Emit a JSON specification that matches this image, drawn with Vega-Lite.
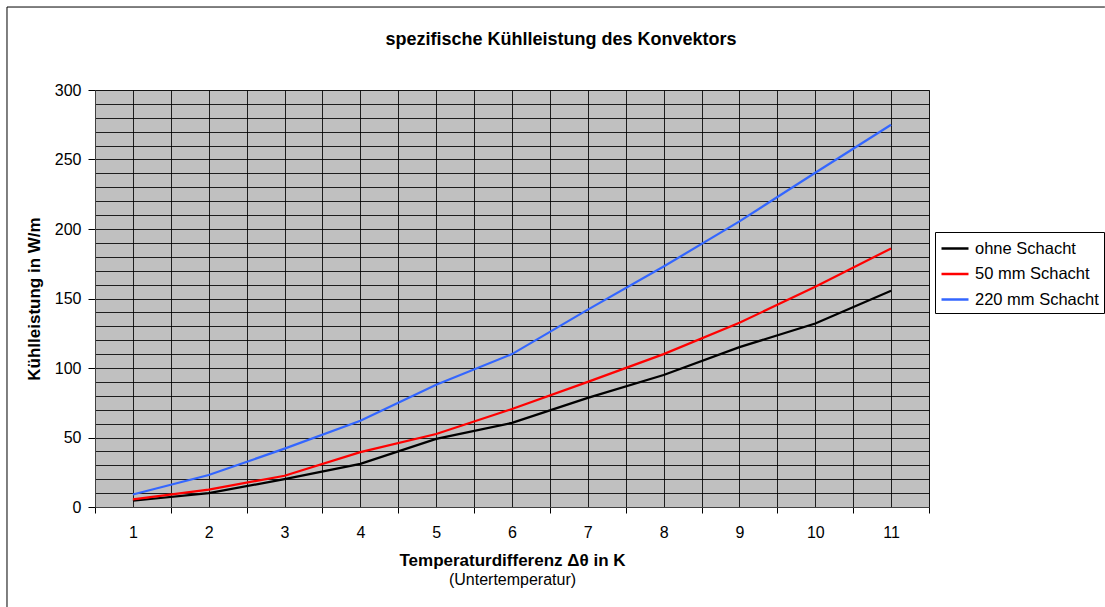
{
  "$schema": "https://vega.github.io/schema/vega-lite/v6.json",
  "autosize": {"type": "none"},
  "width": 834,
  "height": 417,
  "padding": {"left": 95, "top": 90, "right": 176, "bottom": 100},
  "background": "white",
  "config": {
    "font": "Liberation Sans",
    "axis": {"labelColor": "black", "titleColor": "black", "labelFont": "Liberation Sans", "titleFont": "Liberation Sans"}
  },
  "view": {"fill": "#C0C0C0", "stroke": "#808080", "strokeWidth": 1},
  "title": {
    "text": "spezifische Kühlleistung des Konvektors",
    "anchor": "middle",
    "frame": "group",
    "dx": 49,
    "baseline": "alphabetic",
    "offset": -56.5,
    "font": "Liberation Sans",
    "fontSize": 18,
    "fontWeight": "bold",
    "color": "black"
  },
  "resolve": {"axis": {"x": "independent", "y": "independent"}},
  "data": {
    "values": [
      {"K": 1, "serie": "ohne Schacht", "W": 4.5},
      {"K": 2, "serie": "ohne Schacht", "W": 10},
      {"K": 3, "serie": "ohne Schacht", "W": 20},
      {"K": 4, "serie": "ohne Schacht", "W": 31},
      {"K": 5, "serie": "ohne Schacht", "W": 49},
      {"K": 6, "serie": "ohne Schacht", "W": 60.5},
      {"K": 7, "serie": "ohne Schacht", "W": 78.5},
      {"K": 8, "serie": "ohne Schacht", "W": 95},
      {"K": 9, "serie": "ohne Schacht", "W": 115},
      {"K": 10, "serie": "ohne Schacht", "W": 132},
      {"K": 11, "serie": "ohne Schacht", "W": 155.5},
      {"K": 1, "serie": "50 mm Schacht", "W": 5.5},
      {"K": 2, "serie": "50 mm Schacht", "W": 12.5},
      {"K": 3, "serie": "50 mm Schacht", "W": 22.5},
      {"K": 4, "serie": "50 mm Schacht", "W": 39.5},
      {"K": 5, "serie": "50 mm Schacht", "W": 52.5},
      {"K": 6, "serie": "50 mm Schacht", "W": 70.5},
      {"K": 7, "serie": "50 mm Schacht", "W": 90},
      {"K": 8, "serie": "50 mm Schacht", "W": 110},
      {"K": 9, "serie": "50 mm Schacht", "W": 132.5},
      {"K": 10, "serie": "50 mm Schacht", "W": 158.5},
      {"K": 11, "serie": "50 mm Schacht", "W": 186},
      {"K": 1, "serie": "220 mm Schacht", "W": 9},
      {"K": 2, "serie": "220 mm Schacht", "W": 23},
      {"K": 3, "serie": "220 mm Schacht", "W": 42},
      {"K": 4, "serie": "220 mm Schacht", "W": 62},
      {"K": 5, "serie": "220 mm Schacht", "W": 88},
      {"K": 6, "serie": "220 mm Schacht", "W": 110},
      {"K": 7, "serie": "220 mm Schacht", "W": 142},
      {"K": 8, "serie": "220 mm Schacht", "W": 173},
      {"K": 9, "serie": "220 mm Schacht", "W": 205.5},
      {"K": 10, "serie": "220 mm Schacht", "W": 240.5},
      {"K": 11, "serie": "220 mm Schacht", "W": 275}
    ]
  },
  "layer": [
    {
      "mark": {"type": "line", "strokeWidth": 2.2},
      "encoding": {
        "x": {
          "field": "K",
          "type": "quantitative",
          "scale": {"domain": [0.5, 11.5], "nice": false, "zero": false},
          "axis": {
            "orient": "bottom",
            "title": "Temperaturdifferenz Δθ in K",
            "titleFontSize": 17,
            "titleFontWeight": "bold",
            "titlePadding": 12,
            "values": [0.5, 1, 1.5, 2, 2.5, 3, 3.5, 4, 4.5, 5, 5.5, 6, 6.5, 7, 7.5, 8, 8.5, 9, 9.5, 10, 10.5, 11, 11.5],
            "labelExpr": "datum.value % 1 === 0 ? format(datum.value, 'd') : ''",
            "labelOverlap": false,
            "labelFlush": false,
            "labelFontSize": 16,
            "labelPadding": 11,
            "tickSize": 6,
            "tickColor": "black",
            "tickOpacity": {"condition": {"test": "datum.value % 1 !== 0", "value": 1}, "value": 0},
            "domainColor": "#404040",
            "grid": true,
            "gridColor": "black",
            "gridWidth": 1,
            "gridOpacity": 0.85
          }
        },
        "y": {
          "field": "W",
          "type": "quantitative",
          "scale": {"domain": [0, 300], "nice": false},
          "axis": {
            "orient": "left",
            "title": "Kühlleistung in W/m",
            "titleFontSize": 17,
            "titleFontWeight": "bold",
            "titlePadding": 11,
            "values": [0, 10, 20, 30, 40, 50, 60, 70, 80, 90, 100, 110, 120, 130, 140, 150, 160, 170, 180, 190, 200, 210, 220, 230, 240, 250, 260, 270, 280, 290, 300],
            "labelExpr": "datum.value % 50 === 0 ? format(datum.value, 'd') : ''",
            "labelOverlap": false,
            "labelFlush": false,
            "labelFontSize": 16,
            "labelPadding": 7,
            "tickSize": 7,
            "tickColor": "black",
            "tickOpacity": {"condition": {"test": "datum.value % 50 === 0", "value": 1}, "value": 0},
            "domainColor": "#404040",
            "grid": true,
            "gridColor": "black",
            "gridWidth": 1,
            "gridOpacity": 0.85
          }
        },
        "color": {
          "field": "serie",
          "type": "nominal",
          "scale": {
            "domain": ["ohne Schacht", "50 mm Schacht", "220 mm Schacht"],
            "range": ["#000000", "#FF0000", "#3366FF"]
          },
          "legend": {
            "title": null,
            "orient": "none",
            "legendX": 840,
            "legendY": 142,
            "padding": 5,
            "strokeColor": "black",
            "fillColor": "white",
            "symbolType": "M-1,0H1.7",
            "symbolSize": 400,
            "symbolStrokeWidth": 2.5,
            "symbolFillColor": "transparent",
            "labelFontSize": 16.5,
            "labelFont": "Liberation Sans",
            "labelColor": "black",
            "labelOffset": 12,
            "rowPadding": 5.5
          }
        }
      }
    },
    {
      "data": {"values": [{}]},
      "mark": {"type": "rule", "color": "black", "strokeWidth": 1},
      "encoding": {
        "x": {
          "datum": -0.6607,
          "type": "quantitative",
          "axis": {
            "orient": "bottom",
            "title": "(Untertemperatur)",
            "titleFontSize": 16,
            "titleFontWeight": "normal",
            "titlePadding": 64,
            "labels": false,
            "ticks": false,
            "domain": false,
            "grid": false
          }
        },
        "y": {"datum": 359.7, "type": "quantitative", "axis": null},
        "y2": {"datum": -72}
      }
    },
    {
      "data": {"values": [{}]},
      "mark": {"type": "rule", "color": "black", "strokeWidth": 1},
      "encoding": {
        "x": {"datum": -0.6607, "type": "quantitative", "axis": null},
        "x2": {"datum": 13.82},
        "y": {"datum": 359.7, "type": "quantitative", "axis": null}
      }
    }
  ]
}
